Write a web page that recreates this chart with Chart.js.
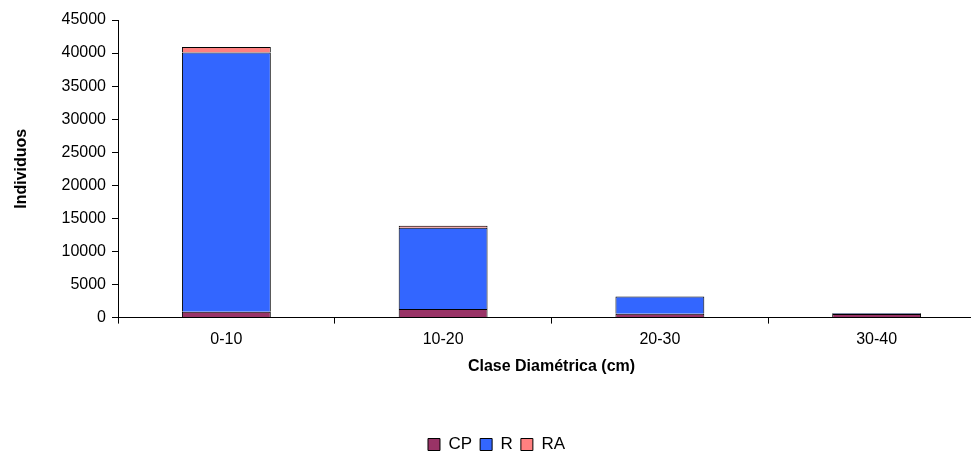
<!DOCTYPE html>
<html>
<head>
<meta charset="utf-8">
<script src="https://cdn.jsdelivr.net/npm/chart.js@4/dist/chart.umd.min.js"></script>
<style>
  html, body { margin: 0; padding: 0; background: #fff; overflow: hidden; }
  #wrap { width: 985px; height: 452px; }
</style>
</head>
<body>
<div id="wrap"><canvas id="myChart1"></canvas></div>
<script>
	var CLASES = ['0-10', '10-20', '20-30', '30-40'];
	var CP = [900, 1300, 600, 550];
	var R = [39200, 12300, 2600, 100];
	var RA = [800, 300, 0, 50];

	Chart.defaults.font.family = 'Liberation Sans, Arial, sans-serif';
	Chart.defaults.color = '#000';

	// dessin du graphique
	var graphic_1 = document.getElementById('myChart1').getContext('2d');
	var chart = new Chart(graphic_1, {
		type: 'bar',
		data: {
			labels: CLASES,
			datasets: [{
				label: 'CP',
				backgroundColor: '#993366',
				borderColor: '#000',
				borderWidth: 1,
				data: CP
			}, {
				label: 'R',
				backgroundColor: '#3366FF',
				borderColor: '#000',
				borderWidth: 1,
				data: R
			}, {
				label: 'RA',
				backgroundColor: '#FF8080',
				borderColor: '#000',
				borderWidth: 1,
				data: RA
			}]
		},
		options: {
			responsive: true,
			maintainAspectRatio: false,
			animation: false,
			layout: { padding: { left: 8, top: 20, right: 0, bottom: -11 } },
			datasets: { bar: { categoryPercentage: 1, barPercentage: 0.41 } },
			plugins: {
				tooltip: { enabled: false },
				legend: {
					position: 'bottom',
					labels: { boxWidth: 12, boxHeight: 12, padding: 8, font: { size: 17 } }
				}
			},
			scales: {
				x: {
					stacked: true,
					grid: { drawOnChartArea: false, color: '#000', tickLength: 6 },
					border: { color: '#000' },
					ticks: { font: { size: 16 }, padding: 6 },
					title: { display: true, text: 'Clase Diamétrica (cm)', font: { size: 16, weight: 'bold' }, padding: { top: 2, bottom: 52 } }
				},
				y: {
					stacked: true,
					min: 0,
					max: 45000,
					afterFit: function(s) { s.width = 110; },
					grid: { drawOnChartArea: false, color: '#000', tickLength: 6 },
					border: { color: '#000' },
					ticks: {
						stepSize: 5000,
						font: { size: 16 },
						padding: 6,
						callback: function(v) { return String(v); }
					},
					title: { display: true, text: 'Individuos', font: { size: 16, weight: 'bold' }, padding: { bottom: 8 } }
				}
			}
		}
	});
</script>
</body>
</html>
